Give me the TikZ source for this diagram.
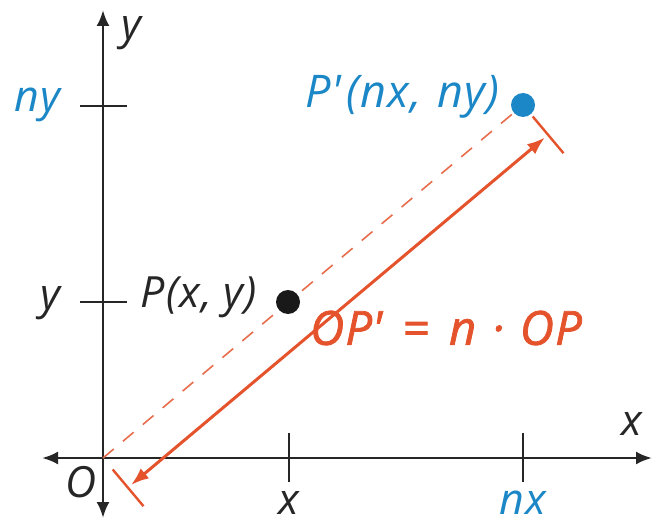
\documentclass[tikz,border=0pt]{standalone}
\usepackage{fontspec}
\setmainfont{Open Sans}[LetterSpace=3]
\newfontfamily\eqfont[FakeBold=1.6,LetterSpace=3]{Open Sans}
\usetikzlibrary{arrows.meta,calc}
\definecolor{myblue}{HTML}{1B87C6}
\definecolor{myred}{HTML}{E4532C}
\begin{document}
\begin{tikzpicture}[x=1pt,y=-1pt,
  axis/.style={line width=2.6pt,draw=black!85},
  tick/.style={line width=2.4pt,draw=black!85},
  lbl/.style={font=\fontsize{43}{50}\selectfont\itshape,inner sep=0pt},
  dot/.style={circle,inner sep=0pt,minimum size=24pt},
  redline/.style={line width=3pt,draw=myred},
  axarrow/.style={-{Latex[length=16pt,width=13pt]}},
]
\useasboundingbox (0,0) rectangle (652,526);
% axes
\coordinate (O) at (103,458);
\coordinate (xl) at (42,458);
\coordinate (xr) at (652,458);
\coordinate (yt) at (103,10);
\coordinate (yb) at (103,518);
\draw[axis,axarrow] (O) -- (xr);
\draw[axis,axarrow] (O) -- (xl);
\draw[axis,axarrow] (O) -- (yt);
\draw[axis,axarrow] (O) -- (yb);
% ticks
\coordinate (tx1a) at (289,433); \coordinate (tx1b) at (289,482);
\coordinate (tx2a) at (523,433); \coordinate (tx2b) at (523,482);
\coordinate (ty1a) at (80,302); \coordinate (ty1b) at (127,302);
\coordinate (ty2a) at (80,106); \coordinate (ty2b) at (127,106);
\draw[tick] (tx1a) -- (tx1b);
\draw[tick] (tx2a) -- (tx2b);
\draw[tick] (ty1a) -- (ty1b);
\draw[tick] (ty2a) -- (ty2b);
% points
\node[dot] (Pp) at (523,105) {};
\node[dot] (P) at (288,302) {};
% dashed segment
\draw[line width=1.6pt,draw=myred!85,dash pattern=on 14pt off 12pt] (O) -- (Pp.center);
\node[dot,fill=myblue] at (Pp) {};
\node[dot,fill=black!90] at (P) {};
% red measurement
\coordinate (b1a) at (112.7,469.5); \coordinate (b1b) at (143.5,506.2);
\coordinate (b2a) at (532.7,116.5); \coordinate (b2b) at (563.5,153.2);
\coordinate (a1) at (131,485); \coordinate (a2) at (545,137.5);
\draw[line width=2.4pt,draw=myred] (b1a) -- (b1b);
\draw[line width=2.4pt,draw=myred] (b2a) -- (b2b);
\draw[redline,{Latex[length=18pt,width=13pt]}-{Latex[length=18pt,width=13pt]}] (a1) -- (a2);
% labels
\node[lbl,text=black!85] (ylab) at (131,33) {y};
\node[lbl,text=black!85] (xlab) at (632,424) {x};
\node[lbl,text=black!85] (Olab) at (81,482) {O};
\node[lbl,text=black!85] (xt) at (289,503) {x};
\node[lbl,text=myblue] (nxt) at (523,503) {nx};
\node[lbl,text=black!85] (yt1) at (50,303) {y};
\node[lbl,text=myblue] (yt2) at (37,105) {ny};
\node[lbl,text=black!85,anchor=east] (Plab) at (257,297) {P(x,\hspace{11pt}y)};
\node[lbl,text=myblue,anchor=east,font=\fontsize{45}{52}\selectfont\itshape] (Pplab) at (500,97) {P\textquotesingle\hspace{5pt}(nx,\hspace{16pt}ny)};
\node[lbl,text=myred,anchor=west,font=\fontsize{47}{54}\selectfont\eqfont\itshape] (eq) at (310,328) {OP\textquotesingle\hspace{20pt}=\hspace{20pt}n\hspace{16pt}·\hspace{16pt}OP};
\end{tikzpicture}
\end{document}
